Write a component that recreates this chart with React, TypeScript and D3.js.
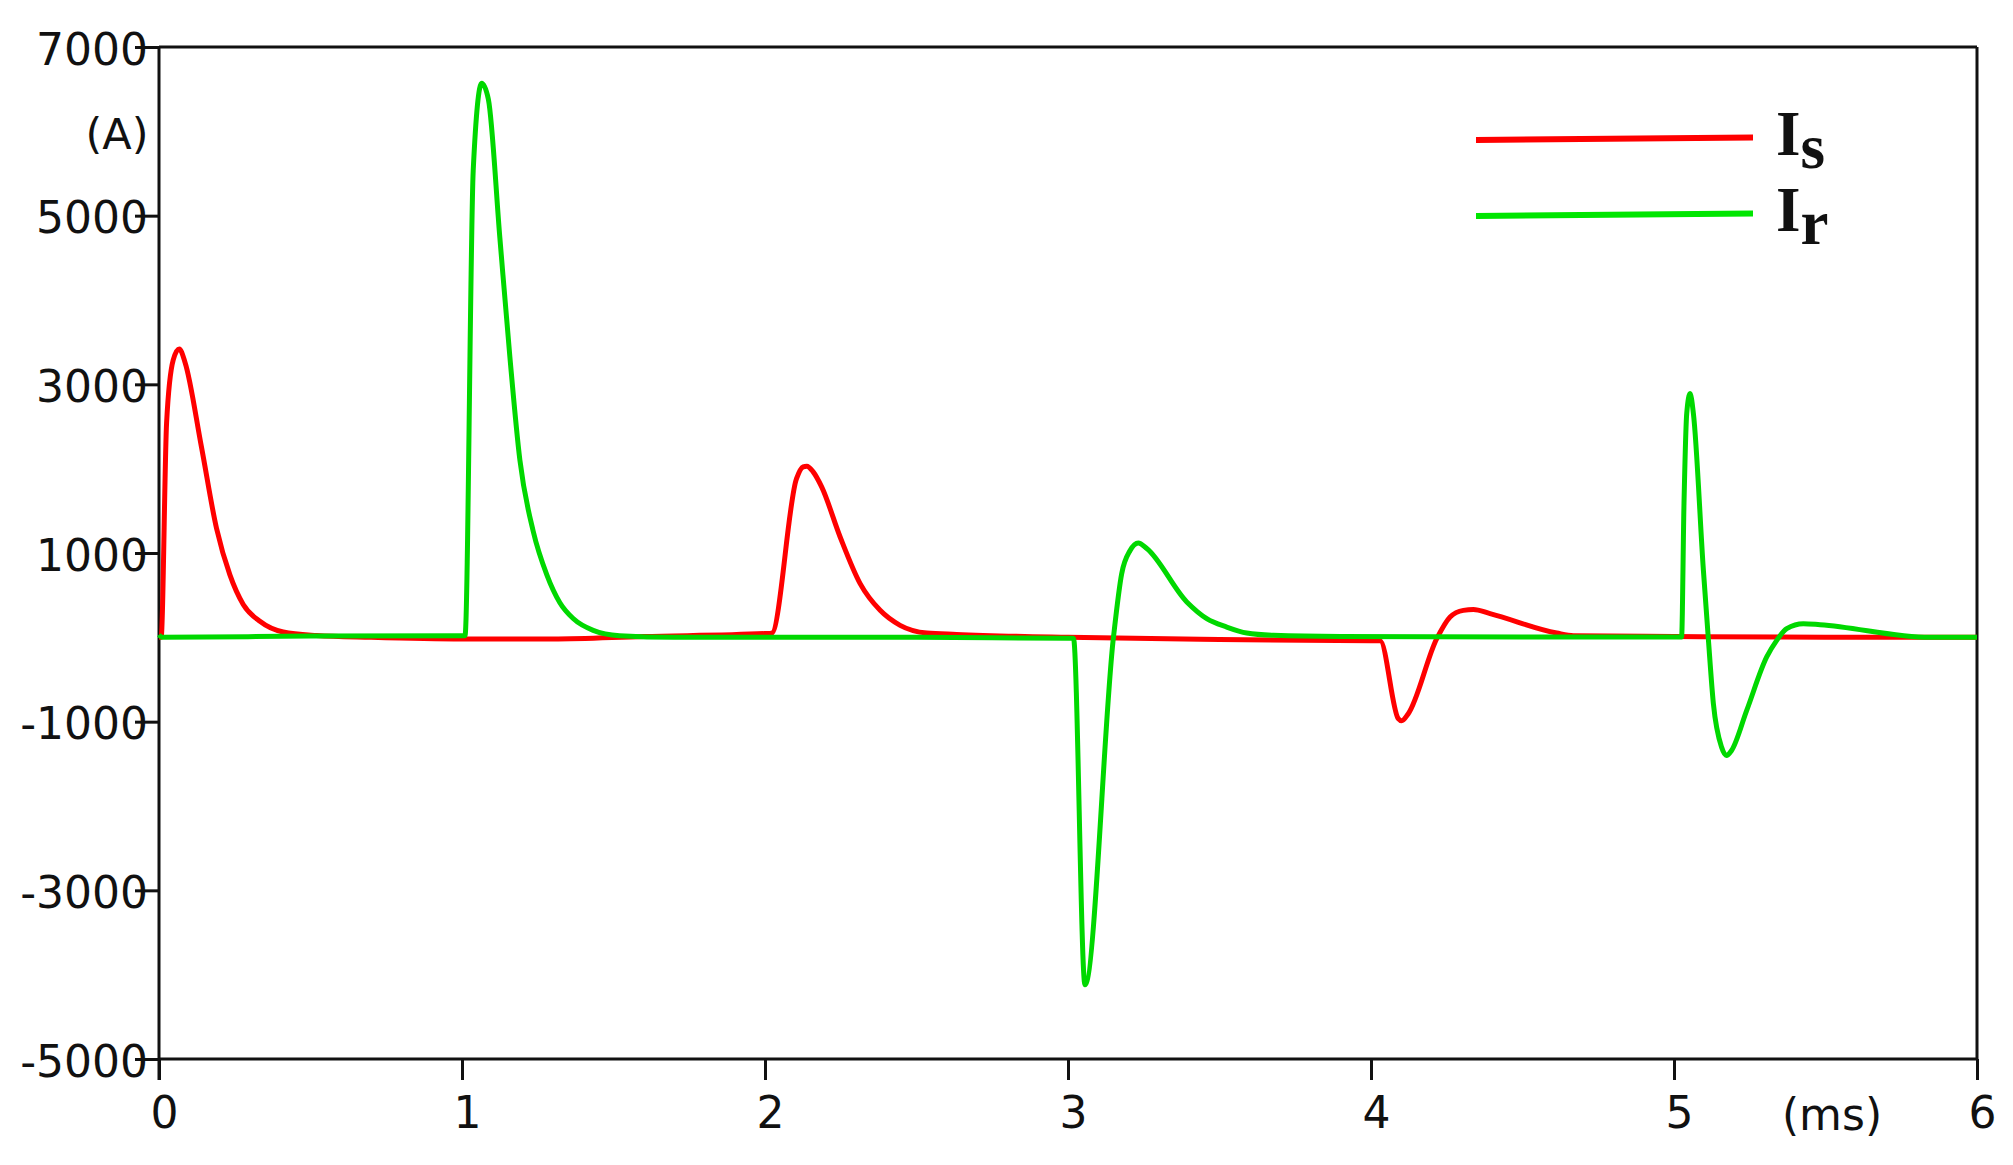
import React, { useEffect, useRef } from "react";
import * as d3 from "d3";

// Time (ms) and current (A) samples
const tIs = [0, 0.007, 0.025, 0.047, 0.067, 0.086, 0.14, 0.19, 0.234, 0.278, 0.333, 0.41, 0.52, 0.7, 1.0, 1.3, 1.6, 2.0, 2.022, 2.104, 2.126, 2.138, 2.159, 2.187, 2.248, 2.314, 2.38, 2.446, 2.534, 2.632, 3.0, 3.5, 4.0, 4.03, 4.09, 4.101, 4.123, 4.217, 4.261, 4.305, 4.338, 4.393, 4.613, 4.668, 5.0, 5.5, 6.0];
const vIs = [0, 0, 2540, 3290, 3420, 3260, 2260, 1290, 740, 390, 190, 63, 22, 0, -20, -20, 10, 45, 50, 1883, 2022, 2030, 1962, 1784, 1190, 637, 320, 142, 51, 35, 0, -25, -40, -40, -965, -990, -906, -16, 241, 320, 330, 281, 51, 20, 10, 0, 0];

const tIr = [0, 0.01, 0.5, 1.0, 1.01, 1.037, 1.065, 1.087, 1.125, 1.158, 1.191, 1.235, 1.28, 1.323, 1.367, 1.433, 1.52, 1.7, 2.5, 3.0, 3.018, 3.056, 3.15, 3.177, 3.205, 3.232, 3.26, 3.392, 3.458, 3.524, 3.59, 3.678, 3.9, 4.5, 5.0, 5.025, 5.033, 5.042, 5.053, 5.064, 5.097, 5.113, 5.13, 5.157, 5.173, 5.19, 5.24, 5.306, 5.339, 5.372, 5.427, 5.482, 5.845, 6.0];
const vIr = [30, 0, 15, 20, 20, 5535, 6570, 6380, 4736, 3326, 2103, 1258, 741, 411, 223, 83, 20, 0, 0, -10, -10, -4120, 0, 752, 1030, 1120, 1053, 420, 222, 122, 51, 24, 10, 5, 5, 5, 1590, 2655, 2890, 2655, 795, 0, -787, -1302, -1400, -1341, -866, -233, -36, 103, 162, 150, 0, 0];

const yTicks = [7000, 5000, 3000, 1000, -1000, -3000, -5000];
const xTicks = [0, 1, 2, 3, 4, 5, 6];
const seriesNames = ["I", "I"];
const seriesSubs = ["s", "r"];

const W = 2013;
const H = 1165;
const L = 159, R = 1977, T = 47, B = 1059;
const RED = "#ff0000";
const GREEN = "#00d800";

export default function App() {
  const gx = useRef<SVGGElement>(null);
  const gy = useRef<SVGGElement>(null);

  const x = d3.scaleLinear().domain([0, 6]).range([L, R]);
  const y = d3.scaleLinear().domain([-5000, 7000]).range([B, T]);

  useEffect(() => {
    const ax = d3.axisBottom(x).tickValues(xTicks).tickFormat((d: any) => String(d)).tickSize(21).tickPadding(17).tickSizeOuter(0);
    const sx = d3.select(gx.current!);
    sx.call(ax as any);
    sx.select(".domain").remove();
    sx.selectAll("line").attr("stroke", "#111").attr("stroke-width", 3);
    sx.selectAll("text").attr("font-family", "'DejaVu Sans', Verdana, sans-serif").attr("font-size", 44).attr("fill", "#111").attr("dx", 5);

    const ay = d3.axisLeft(y).tickValues(yTicks).tickFormat((d: any) => String(d)).tickSize(24).tickPadding(-13).tickSizeOuter(0);
    const sy = d3.select(gy.current!);
    sy.call(ay as any);
    sy.select(".domain").remove();
    sy.selectAll("line").attr("stroke", "#111").attr("stroke-width", 3);
    sy.selectAll("text").attr("font-family", "'DejaVu Sans', Verdana, sans-serif").attr("font-size", 44).attr("fill", "#111").attr("dy", "0.39em");
  }, []);

  const line = d3.line<[number, number]>().x((d) => x(d[0])).y((d) => y(d[1])).curve(d3.curveMonotoneX);
  const isPts = tIs.map((t, i) => [t, vIs[i]] as [number, number]);
  const irPts = tIr.map((t, i) => [t, vIr[i]] as [number, number]);

  const legendColors = [RED, "#00e600"];
  const legendY = [140, 216];

  return (
    <svg width={W} height={H} style={{ position: "absolute", left: 0, top: 0, background: "#fff" }}>
      <rect x={0} y={0} width={W} height={H} fill="#fff" />
      <line x1={L} x2={R} y1={T} y2={T} stroke="#111" strokeWidth={3} />
      <line x1={R} x2={R} y1={T} y2={B} stroke="#111" strokeWidth={3} />
      <line x1={L} x2={R} y1={B} y2={B} stroke="#111" strokeWidth={3} />
      <line x1={L} x2={L} y1={T} y2={B + 21} stroke="#111" strokeWidth={3} />
      <g ref={gx} transform={`translate(0,${B})`} />
      <g ref={gy} transform={`translate(${L},0)`} />

      <path d={line(isPts) || ""} fill="none" stroke={RED} strokeWidth={5} strokeLinejoin="round" />
      <path d={line(irPts) || ""} fill="none" stroke={GREEN} strokeWidth={5} strokeLinejoin="round" />

      <text x={117} y={149} textAnchor="middle" fontFamily="'DejaVu Sans', Verdana, sans-serif" fontSize={43} fill="#111">(A)</text>
      <text x={1832} y={1130} textAnchor="middle" fontFamily="'DejaVu Sans', Verdana, sans-serif" fontSize={44} fill="#111">(ms)</text>

      {seriesNames.map((n, i) => (
        <g key={i}>
          <line x1={1476} x2={1753} y1={legendY[i]} y2={legendY[i] - 2.5} stroke={legendColors[i]} strokeWidth={6} />
          <text x={1776} y={legendY[i] + 15} fontFamily="'Liberation Serif', 'Times New Roman', serif" fontWeight="bold" fontSize={63} fill="#111">
            {n}
            <tspan dy={13}>{seriesSubs[i]}</tspan>
          </text>
        </g>
      ))}
    </svg>
  );
}
